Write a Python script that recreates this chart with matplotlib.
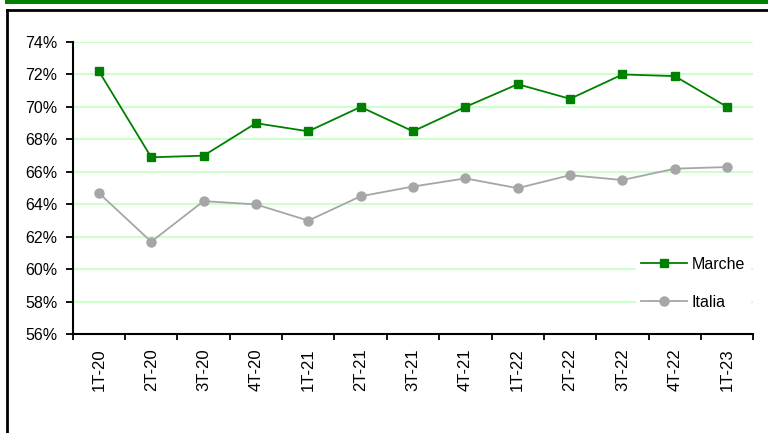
import matplotlib
matplotlib.use('Agg')
import numpy as np
import matplotlib.pyplot as plt
from matplotlib.lines import Line2D
from matplotlib.patches import Rectangle
from matplotlib.ticker import FixedLocator, FuncFormatter

plt.rcParams['font.family'] = ['Liberation Sans', 'DejaVu Sans']

quarters = ['1T-20', '2T-20', '3T-20', '4T-20', '1T-21', '2T-21', '3T-21',
            '4T-21', '1T-22', '2T-22', '3T-22', '4T-22', '1T-23']
marche = [72.2, 66.9, 67.0, 69.0, 68.5, 70.0, 68.5, 70.0, 71.4, 70.5, 72.0, 71.9, 70.0]
italia = [64.7, 61.7, 64.2, 64.0, 63.0, 64.5, 65.1, 65.6, 65.0, 65.8, 65.5, 66.2, 66.3]
yticks = [56, 58, 60, 62, 64, 66, 68, 70, 72, 74]

green = '#008000'
grey = '#a6a6a6'

fig = plt.figure(figsize=(7.68, 4.33), dpi=100)
ax = fig.add_axes([72.7/768, 1-334.3/433, (753.3-72.7)/768, (334.3-42)/433])

x = np.arange(len(quarters))

# light green grid
for v in yticks[1:]:
    ax.axhline(v, color='#ccffcc', lw=1.5, zorder=0)

ax.plot(x, marche, color=green, lw=1.3, marker='s', ms=6, label='Marche', zorder=3)
ax.plot(x, italia, color=grey, lw=1.3, marker='o', ms=6.5, label='Italia', zorder=3)

ax.set_xlim(-0.5, len(quarters) - 0.5)
ax.set_ylim(56, 74)
ax.set_yticks(yticks)
ax.yaxis.set_major_formatter(FuncFormatter(lambda v, p: '%d%%' % v))
ax.set_xticks(x)
ax.set_xticklabels(quarters, rotation=90)
ax.xaxis.set_minor_locator(FixedLocator(np.arange(-0.5, len(quarters), 1)))
ax.tick_params(axis='x', which='major', length=0, pad=10, labelsize=12)
ax.tick_params(axis='x', which='minor', length=4, width=1.3, direction='out')
ax.tick_params(axis='y', length=5, width=1.3, pad=6, labelsize=11.5)

for s in ['top', 'right']:
    ax.spines[s].set_visible(False)
for s in ['left', 'bottom']:
    ax.spines[s].set_linewidth(1.5)

leg = ax.legend(loc='upper left', bbox_to_anchor=(636/768, 1-252/433), bbox_transform=fig.transFigure,
                frameon=True, fontsize=11.5, handlelength=2.9, handletextpad=0.3,
                labelspacing=1.45, borderpad=0.3, borderaxespad=0)
leg.get_frame().set_edgecolor('white')
leg.get_frame().set_facecolor('white')
leg.get_frame().set_alpha(1)
leg.get_frame().set_boxstyle('square', pad=0)

# outer decorations: green strip and black frame
fig.add_artist(Rectangle((5/768, 1-3.5/433), 1, 3.5/433, transform=fig.transFigure,
                         facecolor=green, edgecolor='none'))
fig.add_artist(Line2D([6.5/768, 1], [1-9.5/433, 1-9.5/433], transform=fig.transFigure, color='black', lw=2))
fig.add_artist(Line2D([6.5/768, 6.5/768], [0, 1-9.5/433], transform=fig.transFigure, color='black', lw=2))

fig.savefig('out.png', dpi=100)
